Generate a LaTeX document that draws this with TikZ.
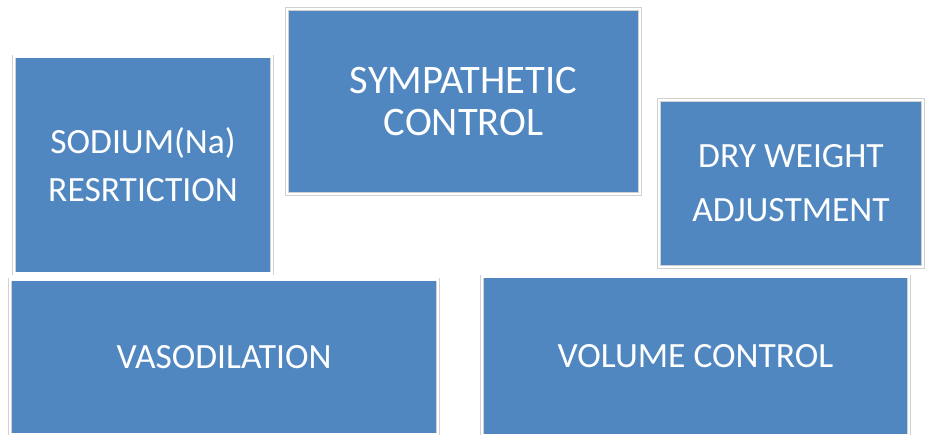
\documentclass[tikz,border=0pt]{standalone}
\usepackage{fontspec}
\setmainfont{Carlito}
\definecolor{boxblue}{HTML}{5087C1}
\tikzset{
  box/.style={rectangle, fill=boxblue, draw=black!18, double=white,
    double distance=2.4pt, line width=0.6pt, inner sep=0pt,
    text=white, align=center, font=\fontsize{35.5}{48}\selectfont},
}

\begin{document}
\begin{tikzpicture}[x=1pt,y=-1pt]
  \useasboundingbox (0,0) rectangle (926,434);
  \clip (0,0) rectangle (926,434);
  \node[box, minimum width=258pt, minimum height=217pt] (sodium)     at (143,165)     {SODIUM(Na)\\RESRTICTION};
  \node[box, minimum width=353pt, minimum height=185pt,
        font=\fontsize{40.5}{42}\selectfont] (sympathetic)            at (463.5,101.5) {SYMPATHETIC\\CONTROL};
  \node[box, minimum width=264pt, minimum height=167pt,
        font=\fontsize{35.5}{54}\selectfont] (dryweight)              at (791,183.5)   {DRY WEIGHT\\ADJUSTMENT};
  \node[box, minimum width=428pt, minimum height=155pt] (vaso)       at (224,357)     {VASODILATION};
  \node[box, minimum width=427pt, minimum height=159pt] (volume)     at (695.5,356)   {VOLUME CONTROL};
\end{tikzpicture}
\end{document}
